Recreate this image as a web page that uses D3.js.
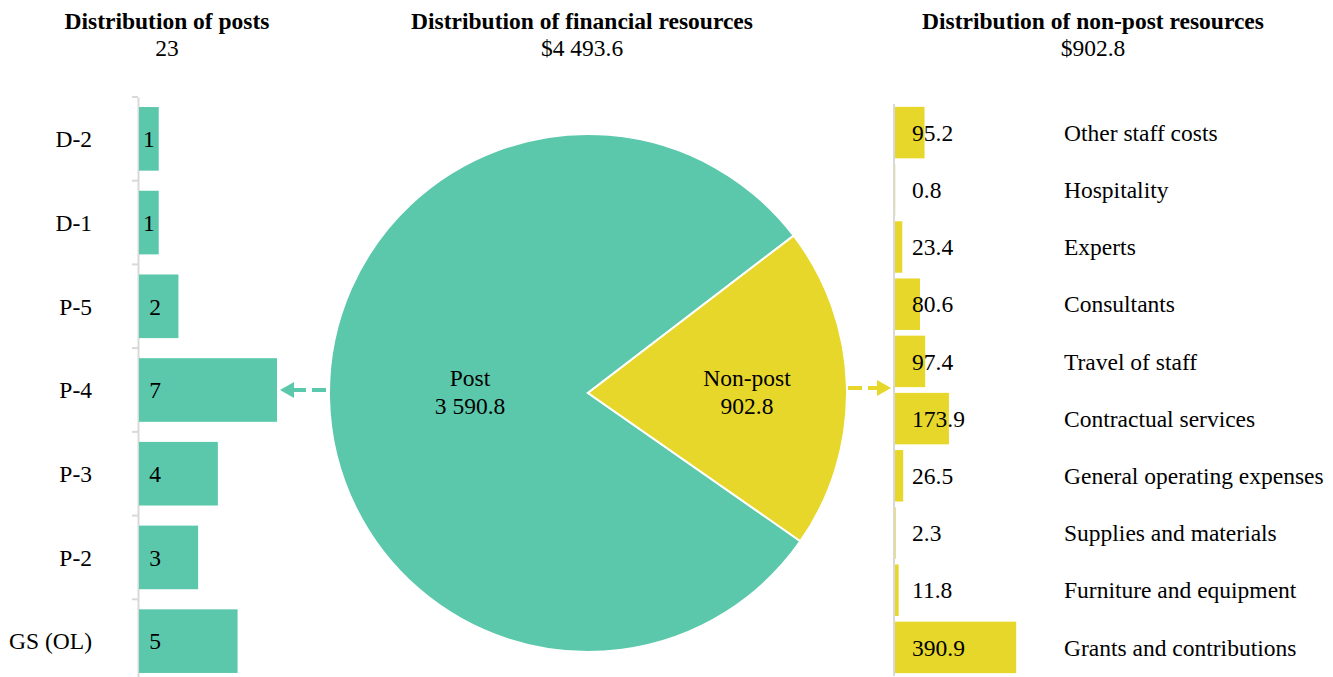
<!DOCTYPE html>
<html>
<head>
<meta charset="utf-8">
<script src="https://cdn.jsdelivr.net/npm/d3@7"></script>
<style>
  body { margin: 0; background: #fff; }
  svg { font-family: "Liberation Serif", "Times New Roman", serif; }
</style>
</head>
<body>
<div id="chart"></div>
<script>
// posts by grade
const gradeNames = ["D-2", "D-1", "P-5", "P-4", "P-3", "P-2", "GS (OL)"];
const gradePosts = [1, 1, 2, 7, 4, 3, 5];

// financial split
const finNames = ["Post", "Non-post"];
const finValues = [3590.8, 902.8];
const finLabels = ["3 590.8", "902.8"];

// non-post breakdown
const objNames = ["Other staff costs", "Hospitality", "Experts", "Consultants", "Travel of staff",
  "Contractual services", "General operating expenses", "Supplies and materials",
  "Furniture and equipment", "Grants and contributions"];
const objValues = [95.2, 0.8, 23.4, 80.6, 97.4, 173.9, 26.5, 2.3, 11.8, 390.9];

const titles = [
  { text: "Distribution of posts", sub: "23", x: 167 },
  { text: "Distribution of financial resources", sub: "$4 493.6", x: 582 },
  { text: "Distribution of non-post resources", sub: "$902.8", x: 1093 }
];

const teal = "#5bc8ac";
const yellow = "#e6d72a";
const axisGrey = "#d9d9d9";
const fs = 23.5;

const W = 1333, H = 677;
const svg = d3.select("#chart").append("svg")
  .attr("width", W)
  .attr("height", H);

// titles
const tg = svg.selectAll(".title").data(titles).join("g").attr("class", "title");
tg.append("text")
  .attr("x", d => d.x).attr("y", 29)
  .attr("text-anchor", "middle")
  .attr("font-weight", "bold")
  .attr("font-size", fs)
  .text(d => d.text);
tg.append("text")
  .attr("x", d => d.x).attr("y", 56)
  .attr("text-anchor", "middle")
  .attr("font-size", fs)
  .text(d => d.sub);

// ---- left: posts bar chart
const leftX0 = 138;
const yPost = d3.scaleBand()
  .domain(gradeNames)
  .range([97, 683])
  .paddingInner(0.24)
  .paddingOuter(0.12);
const xPost = d3.scaleLinear().domain([0, 7]).range([leftX0, leftX0 + 138]);

const leftAxis = svg.append("g")
  .attr("transform", `translate(${leftX0},0)`)
  .call(d3.axisLeft(yPost).tickSize(0).tickFormat(""));
leftAxis.select(".domain").attr("stroke", axisGrey).attr("stroke-width", 2);
// band boundary ticks
svg.append("g").selectAll("line")
  .data(gradeNames)
  .join("line")
  .attr("x1", leftX0 - 6).attr("x2", leftX0)
  .attr("y1", d => yPost(d) - yPost.step() * yPost.paddingInner() / 2)
  .attr("y2", d => yPost(d) - yPost.step() * yPost.paddingInner() / 2)
  .attr("stroke", axisGrey).attr("stroke-width", 2);

svg.append("g").selectAll("rect")
  .data(gradeNames)
  .join("rect")
  .attr("x", xPost(0) + 1)
  .attr("y", d => yPost(d))
  .attr("width", (d, i) => xPost(gradePosts[i]) - xPost(0))
  .attr("height", yPost.bandwidth())
  .attr("fill", teal);

// value labels: centred in short bars, otherwise near the bar start
svg.append("g").selectAll("text")
  .data(gradeNames)
  .join("text")
  .attr("x", (d, i) => Math.min((xPost(0) + xPost(gradePosts[i])) / 2 + 1, 155))
  .attr("y", d => yPost(d) + yPost.bandwidth() / 2)
  .attr("dy", "0.35em")
  .attr("text-anchor", "middle")
  .attr("font-size", fs)
  .text((d, i) => gradePosts[i]);

svg.append("g").selectAll("text")
  .data(gradeNames)
  .join("text")
  .attr("x", 92)
  .attr("y", d => yPost(d) + yPost.bandwidth() / 2)
  .attr("dy", "0.35em")
  .attr("text-anchor", "end")
  .attr("font-size", fs)
  .text(d => d);

// ---- centre: pie
const cx = 588, cy = 393, r = 259;
const nonPostShare = finValues[1] / d3.sum(finValues);
const rot = Math.PI / 2 + Math.PI * nonPostShare - 0.022;
const pie = d3.pie().sort(null)
  .startAngle(rot)
  .endAngle(rot + 2 * Math.PI);
const arcs = pie(finValues);
const arc = d3.arc().innerRadius(0).outerRadius(r);
const pieG = svg.append("g").attr("transform", `translate(${cx},${cy})`);
pieG.selectAll("path")
  .data(arcs)
  .join("path")
  .attr("d", arc)
  .attr("fill", (d, i) => i === 0 ? teal : yellow)
  .attr("stroke", "#fff")
  .attr("stroke-width", 2);

// labels sit on the horizontal through the centre, left / right
const labelDx = [-118, 159];
const lab = pieG.selectAll(".plabel")
  .data(arcs)
  .join("text")
  .attr("class", "plabel")
  .attr("text-anchor", "middle")
  .attr("font-size", fs)
  .attr("transform", (d, i) => `translate(${labelDx[i]},0)`);
lab.append("tspan").attr("x", 0).attr("y", -7).text((d, i) => finNames[i]);
lab.append("tspan").attr("x", 0).attr("y", 21).text((d, i) => finLabels[i]);

// arrows
function arrow(x1, x2, y, color) {
  const dir = Math.sign(x2 - x1);
  svg.append("line")
    .attr("x1", x1).attr("x2", x2 - dir * 10)
    .attr("y1", y).attr("y2", y)
    .attr("stroke", color).attr("stroke-width", 4)
    .attr("stroke-dasharray", "14,6");
  svg.append("path")
    .attr("d", `M${x2},${y} L${x2 - dir * 14},${y - 8} L${x2 - dir * 14},${y + 8} Z`)
    .attr("fill", color);
}
arrow(326, 280, 390, teal);
arrow(848, 891, 388, yellow);

// ---- right: non-post bars
const rightX0 = 894;
const yObj = d3.scaleBand()
  .domain(objNames)
  .range([104, 676])
  .paddingInner(0.1)
  .paddingOuter(0.05);
const xObj = d3.scaleLinear().domain([0, 400]).range([rightX0, rightX0 + 124]);

svg.append("line")
  .attr("x1", rightX0).attr("x2", rightX0)
  .attr("y1", 104).attr("y2", 676)
  .attr("stroke", axisGrey).attr("stroke-width", 2);

svg.append("g").selectAll("rect")
  .data(objNames)
  .join("rect")
  .attr("x", xObj(0) + 1)
  .attr("y", d => yObj(d))
  .attr("width", (d, i) => xObj(objValues[i]) - xObj(0))
  .attr("height", yObj.bandwidth())
  .attr("fill", yellow);

svg.append("g").selectAll("text")
  .data(objNames)
  .join("text")
  .attr("x", 912)
  .attr("y", d => yObj(d) + yObj.bandwidth() / 2)
  .attr("dy", "0.35em")
  .attr("font-size", fs)
  .text((d, i) => objValues[i].toFixed(1));

svg.append("g").selectAll("text")
  .data(objNames)
  .join("text")
  .attr("x", 1064)
  .attr("y", d => yObj(d) + yObj.bandwidth() / 2)
  .attr("dy", "0.35em")
  .attr("font-size", fs)
  .text(d => d);
</script>
</body>
</html>
